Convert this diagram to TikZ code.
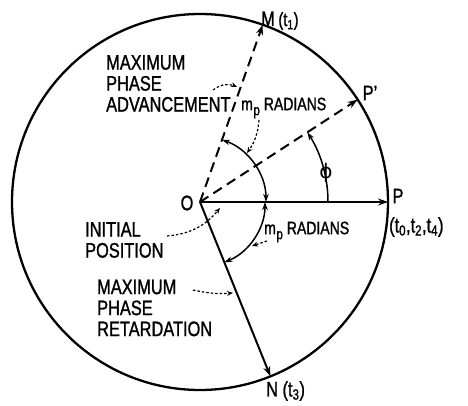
\documentclass[tikz,border=0pt]{standalone}
\usepackage{fontspec}
\setmainfont{Liberation Sans}[FakeStretch=0.78, FakeBold=1.2]
\newfontfamily\greekfont{DejaVu Sans}
\usetikzlibrary{arrows.meta, calc}

\newcommand{\mpsub}{m\kern0.5pt\raisebox{-0.28em}{\fontsize{15}{15}\selectfont p}}

\begin{document}
\begin{tikzpicture}[x=1pt, y=1pt,
    rim/.style={line width=2.3pt},
    spoke/.style={line width=2pt, -{Stealth[length=10pt, width=7pt]}},
    dspoke/.style={spoke, dash pattern=on 10pt off 6pt},
    angarc/.style={line width=1.5pt, {Stealth[length=8pt, width=5.5pt]}-{Stealth[length=8pt, width=5.5pt]}},
    pointer/.style={line width=1.2pt, dash pattern=on 2.5pt off 2pt, -{Stealth[length=6pt, width=5pt]}},
    caps/.style={font=\fontsize{21}{21}\selectfont, inner sep=0pt, align=left},
    tag/.style={font=\fontsize{18}{19}\selectfont, inner sep=0pt}]
  \useasboundingbox (-200,-204) rectangle (268,202);

  % phasor circle and points on it
  \coordinate (O) at (0,0);
  \draw[rim] (O) circle[radius=188];
  \coordinate (M) at (70.5:188);
  \coordinate (Pp) at (33:188);
  \coordinate (P) at (0:188);
  \coordinate (N) at (-68:188);

  \draw[spoke] (O) -- (P);
  \draw[spoke] (O) -- (N);
  \draw[dspoke] (O) -- (M);
  \draw[dspoke] (O) -- (Pp);

  % angles
  \draw[angarc] (70.5:66) arc[start angle=70.5, end angle=0, radius=66];
  \draw[angarc] (0:65) arc[start angle=0, end angle=-68, radius=65];
  \draw[line width=1.5pt, -{Stealth[length=8pt, width=5.5pt]}] (0:128) arc[start angle=0, end angle=33, radius=128];

  % point labels
  \node[caps] (olab) at (-13,-1) {O};
  \node[caps, anchor=base west] (mlab) at (61,176) {M\,{\fontsize{19}{19}\selectfont(t\textsubscript{1})}};
  \node[caps] (pplab) at (170,109) {P'};
  \node[caps] (plab) at (198,6) {P};
  \node[caps, anchor=west] (tlab) at (189,-25) {(t\textsubscript{0},t\textsubscript{2},t\textsubscript{4})};
  \node[caps, anchor=west] (nlab) at (66,-189) {N (t\textsubscript{3})};
  \node[font=\greekfont\fontsize{20}{20}\selectfont, inner sep=0pt] (phi) at (126,29) {ϕ};

  % captions
  \node[caps, anchor=west] (adv) at (-94,118.5) {MAXIMUM\\PHASE\\ADVANCEMENT};
  \node[tag, anchor=west] (mpa) at (41,94) {\mpsub\ RADIANS};
  \node[caps, anchor=west] (init) at (-115,-38) {INITIAL\\POSITION};
  \node[caps, anchor=west] (ret) at (-103,-106) {MAXIMUM\\PHASE\\RETARDATION};
  \node[tag, anchor=west] (mpb) at (64,-30) {\mpsub\ RADIANS};

  % pointers
  \coordinate (advs) at (13,112);  \coordinate (advt) at (37,115);
  \coordinate (mpas) at (59,82);   \coordinate (mpat) at (47,49);
  \coordinate (inis) at (-33,-34); \coordinate (init) at (20,-6);
  \coordinate (rets) at (-7,-88);  \coordinate (rett) at (33,-91);
  \coordinate (mpbs) at (67,-39);  \coordinate (mpbt) at (52,-44);
  \draw[pointer] (advs) to[bend left=30] (advt);
  \draw[pointer] (mpas) to[bend left=15] (mpat);
  \draw[pointer] (inis) to[out=5, in=230] (init);
  \draw[pointer] (rets) to[bend right=8] (rett);
  \draw[pointer] (mpbs) to (mpbt);
\end{tikzpicture}
\end{document}
